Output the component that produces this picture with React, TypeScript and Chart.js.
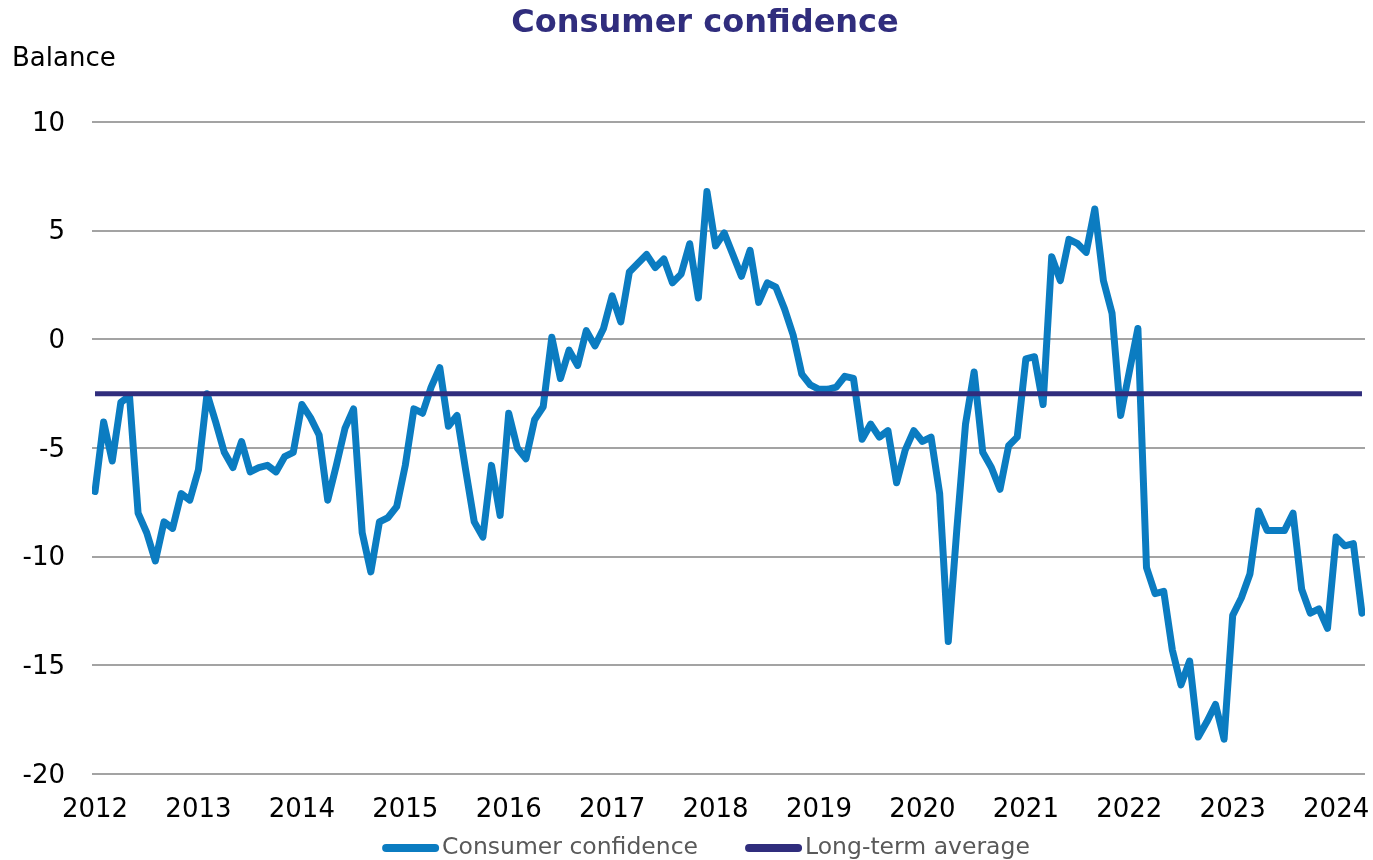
import React, { useEffect, useRef } from "react";
import { Chart, registerables } from "chart.js";

Chart.register(...registerables);

const years = ["2012", "2013", "2014", "2015", "2016", "2017", "2018", "2019", "2020", "2021", "2022", "2023", "2024"];

// Monthly balance, Jan 2012 – Apr 2024
const confidence = [
  -7.0, -3.8, -5.6, -2.9, -2.6, -8.0, -8.9, -10.2, -8.4, -8.7, -7.1, -7.4,
  -6.0, -2.5, -3.8, -5.2, -5.9, -4.7, -6.1, -5.9, -5.8, -6.1, -5.4, -5.2,
  -3.0, -3.6, -4.4, -7.4, -5.8, -4.1, -3.2, -8.9, -10.7, -8.4, -8.2, -7.7,
  -5.8, -3.2, -3.4, -2.2, -1.3, -4.0, -3.5, -6.0, -8.4, -9.1, -5.8, -8.1,
  -3.4, -5.0, -5.5, -3.7, -3.1, 0.1, -1.8, -0.5, -1.2, 0.4, -0.3, 0.5,
  2.0, 0.8, 3.1, 3.5, 3.9, 3.3, 3.7, 2.6, 3.0, 4.4, 1.9, 6.8,
  4.3, 4.9, 3.9, 2.9, 4.1, 1.7, 2.6, 2.4, 1.4, 0.2, -1.6, -2.1,
  -2.3, -2.3, -2.2, -1.7, -1.8, -4.6, -3.9, -4.5, -4.2, -6.6, -5.1, -4.2,
  -4.7, -4.5, -7.1, -13.9, -8.7, -3.9, -1.5, -5.2, -5.9, -6.9, -4.9, -4.5,
  -0.9, -0.8, -3.0, 3.8, 2.7, 4.6, 4.4, 4.0, 6.0, 2.7, 1.2, -3.5,
  -1.5, 0.5, -10.5, -11.7, -11.6, -14.3, -15.9, -14.8, -18.3, -17.6, -16.8, -18.4,
  -12.7, -11.9, -10.8, -7.9, -8.8, -8.8, -8.8, -8.0, -11.5, -12.6, -12.4, -13.3,
  -9.1, -9.5, -9.4, -12.6,
];

const longTermAverage = -2.5;

const yMin = -20;
const yMax = 10;
const yStep = 5;

const seriesNames = ["Consumer confidence", "Long-term average"];
const titleText = "Consumer confidence";
const yAxisLabel = "Balance";

const BLUE = "#0B7CC1";
const NAVY = "#302D7D";
const FONT = "'DejaVu Sans', Verdana, sans-serif";

const extrasPlugin = {
  id: "extras",
  afterDraw(chart: any) {
    const ctx = chart.ctx;
    ctx.save();
    // title
    ctx.font = `bold 32px ${FONT}`;
    ctx.fillStyle = NAVY;
    ctx.textAlign = "center";
    ctx.textBaseline = "middle";
    ctx.fillText(titleText, 705, 24);

    // y-axis caption
    ctx.font = `26px ${FONT}`;
    ctx.fillStyle = "#000";
    ctx.textAlign = "left";
    ctx.textBaseline = "middle";
    ctx.fillText(yAxisLabel, 12, 59);

    // legend
    ctx.font = `23.5px ${FONT}`;
    const items = chart.data.datasets.map((ds: any) => ({
      label: ds.label,
      color: ds.borderColor,
      w: ctx.measureText(ds.label).width,
    }));
    const markerW = 57;
    const gapText = 3;
    const gapItem = 47;
    let total = 0;
    items.forEach((it: any, i: number) => {
      total += markerW + gapText + it.w + (i > 0 ? gapItem : 0);
    });
    let x = 706 - total / 2;
    const y = 848;
    items.forEach((it: any) => {
      ctx.strokeStyle = it.color;
      ctx.lineWidth = 8;
      ctx.lineCap = "round";
      ctx.beginPath();
      ctx.moveTo(x + 4, y);
      ctx.lineTo(x + markerW - 4, y);
      ctx.stroke();
      ctx.fillStyle = "#595959";
      ctx.textBaseline = "middle";
      ctx.fillText(it.label, x + markerW + gapText, y);
      x += markerW + gapText + it.w + gapItem;
    });
    ctx.restore();
  },
};

export default function App() {
  const ref = useRef<HTMLCanvasElement | null>(null);

  useEffect(() => {
    document.body.style.margin = "0";
    const canvas = ref.current;
    if (!canvas) return;
    const chart = new Chart(canvas, {
      type: "line",
      data: {
        datasets: [
          {
            label: seriesNames[0],
            data: confidence.map((v, i) => ({ x: i, y: v })),
            borderColor: BLUE,
            backgroundColor: BLUE,
            borderWidth: 7,
            pointRadius: 0,
            tension: 0,
            borderJoinStyle: "round",
            borderCapStyle: "round",
            order: 1,
          },
          {
            label: seriesNames[1],
            data: [
              { x: 0, y: longTermAverage },
              { x: confidence.length - 1, y: longTermAverage },
            ],
            borderColor: NAVY,
            backgroundColor: NAVY,
            borderWidth: 5,
            pointRadius: 0,
            order: 0,
          },
        ],
      },
      options: {
        animation: false,
        responsive: false,
        devicePixelRatio: 1,
        layout: { padding: { left: 0, right: 8, top: 122, bottom: 26 } },
        plugins: {
          legend: { display: false },
          tooltip: { enabled: false },
          title: { display: false },
        },
        scales: {
          x: {
            type: "linear",
            min: -0.35,
            max: confidence.length - 1 + 0.35,
            grid: { display: false },
            border: { display: false },
            afterBuildTicks: (scale: any) => {
              scale.ticks = years.map((_, k) => ({ value: k * 12 }));
            },
            afterFit: (scale: any) => {
              scale.height = 60;
              scale.paddingLeft = 0;
              scale.paddingRight = 0;
            },
            ticks: {
              autoSkip: false,
              maxRotation: 0,
              padding: 13,
              color: "#000",
              font: { family: FONT, size: 26 },
              callback: (_v: any, i: number) => years[i],
            },
          },
          y: {
            min: yMin,
            max: yMax,
            grid: { color: "#A3A3A3", lineWidth: 2, drawTicks: false },
            border: { display: false },
            afterFit: (scale: any) => {
              scale.width = 92;
            },
            ticks: {
              stepSize: yStep,
              padding: 27,
              labelOffset: 2,
              color: "#000",
              font: { family: FONT, size: 26 },
            },
          },
        },
      },
      plugins: [extrasPlugin],
    });
    return () => chart.destroy();
  }, []);

  return (
    <div style={{ width: 1373, height: 860 }}>
      <canvas ref={ref} width={1373} height={860} style={{ display: "block" }} />
    </div>
  );
}
